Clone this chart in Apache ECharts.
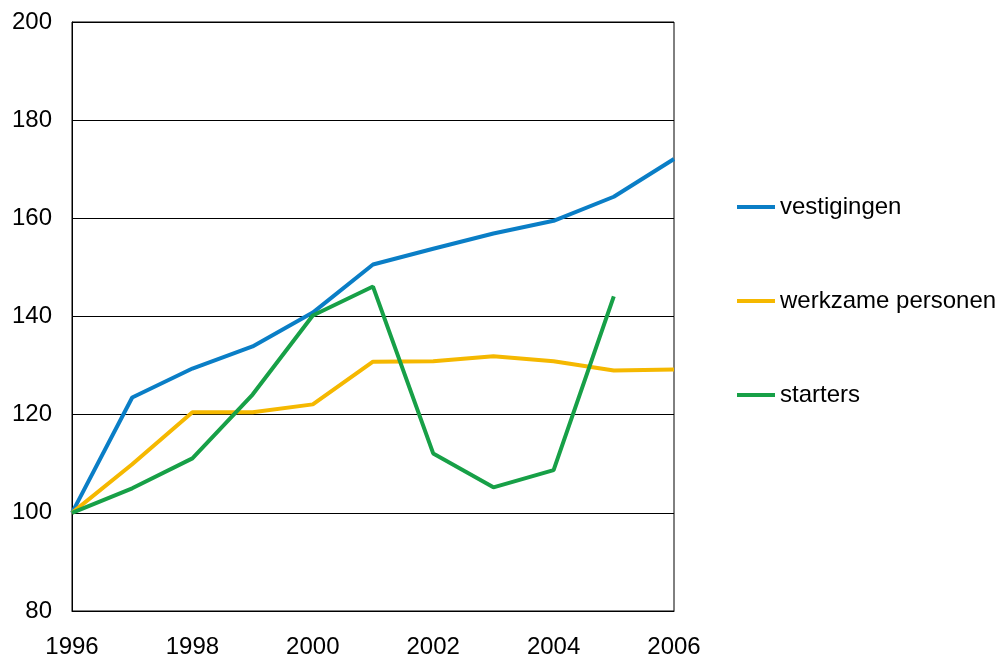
<!DOCTYPE html>
<html>
<head>
<meta charset="utf-8">
<script src="https://cdn.jsdelivr.net/npm/echarts@6/dist/echarts.min.js"></script>
<style>
  html, body { margin: 0; padding: 0; background: #fff; }
  #main { width: 1006px; height: 659px; }
</style>
</head>
<body>
<div id="main"></div>
<script>
// jaren en indexcijfers (1996 = 100)
const years = [1996, 1997, 1998, 1999, 2000, 2001, 2002, 2003, 2004, 2005, 2006];
const vestigingen = [100, 123.5, 129.4, 133.9, 140.8, 150.6, 153.8, 156.9, 159.5, 164.4, 172.1];
const werkzamePersonen = [100, 109.9, 120.5, 120.5, 122.1, 130.8, 130.9, 131.9, 130.9, 129.0, 129.2];
const starters = [100, 105.0, 111.1, 124.1, 140.2, 146.1, 112.1, 105.2, 108.7, 144.1, null];

const seriesNames = ['vestigingen', 'werkzame personen', 'starters'];
const colors = ['#0a7ec6', '#f5b800', '#17a047'];

const chart = echarts.init(document.getElementById('main'));

function pairs(vals) {
  return years.map((y, i) => [y, vals[i]]);
}

const font = 'Liberation Sans, Arial, sans-serif';

const option = {
  animation: false,
  color: colors,
  grid: {
    left: 72,
    right: 332,
    top: 22,
    bottom: 47,
    show: true,
    borderColor: '#000',
    borderWidth: 1
  },
  legend: {
    orient: 'vertical',
    left: 732,
    top: 190,
    itemWidth: 38,
    itemHeight: 4,
    itemGap: 70,
    icon: 'rect',
    textStyle: { fontSize: 24, fontFamily: font, color: '#000' },
    data: seriesNames
  },
  xAxis: {
    type: 'value',
    min: 1996,
    max: 2006,
    interval: 2,
    axisLine: { show: true, lineStyle: { color: '#000' } },
    axisTick: { show: false },
    splitLine: { show: false },
    axisLabel: { fontSize: 24, fontFamily: font, color: '#000', margin: 24, formatter: v => String(v) }
  },
  yAxis: {
    type: 'value',
    min: 80,
    max: 200,
    interval: 20,
    axisLine: { show: true, lineStyle: { color: '#000' } },
    axisTick: { show: false },
    splitLine: { show: true, lineStyle: { color: '#000', width: 1 } },
    axisLabel: { fontSize: 24, fontFamily: font, color: '#000', margin: 20 }
  },
  series: [
    { name: seriesNames[0], type: 'line', data: pairs(vestigingen), showSymbol: false, lineStyle: { width: 4 } },
    { name: seriesNames[1], type: 'line', data: pairs(werkzamePersonen), showSymbol: false, lineStyle: { width: 4 } },
    { name: seriesNames[2], type: 'line', data: pairs(starters), showSymbol: false, lineStyle: { width: 4 } }
  ]
};

chart.setOption(option);
</script>
</body>
</html>
